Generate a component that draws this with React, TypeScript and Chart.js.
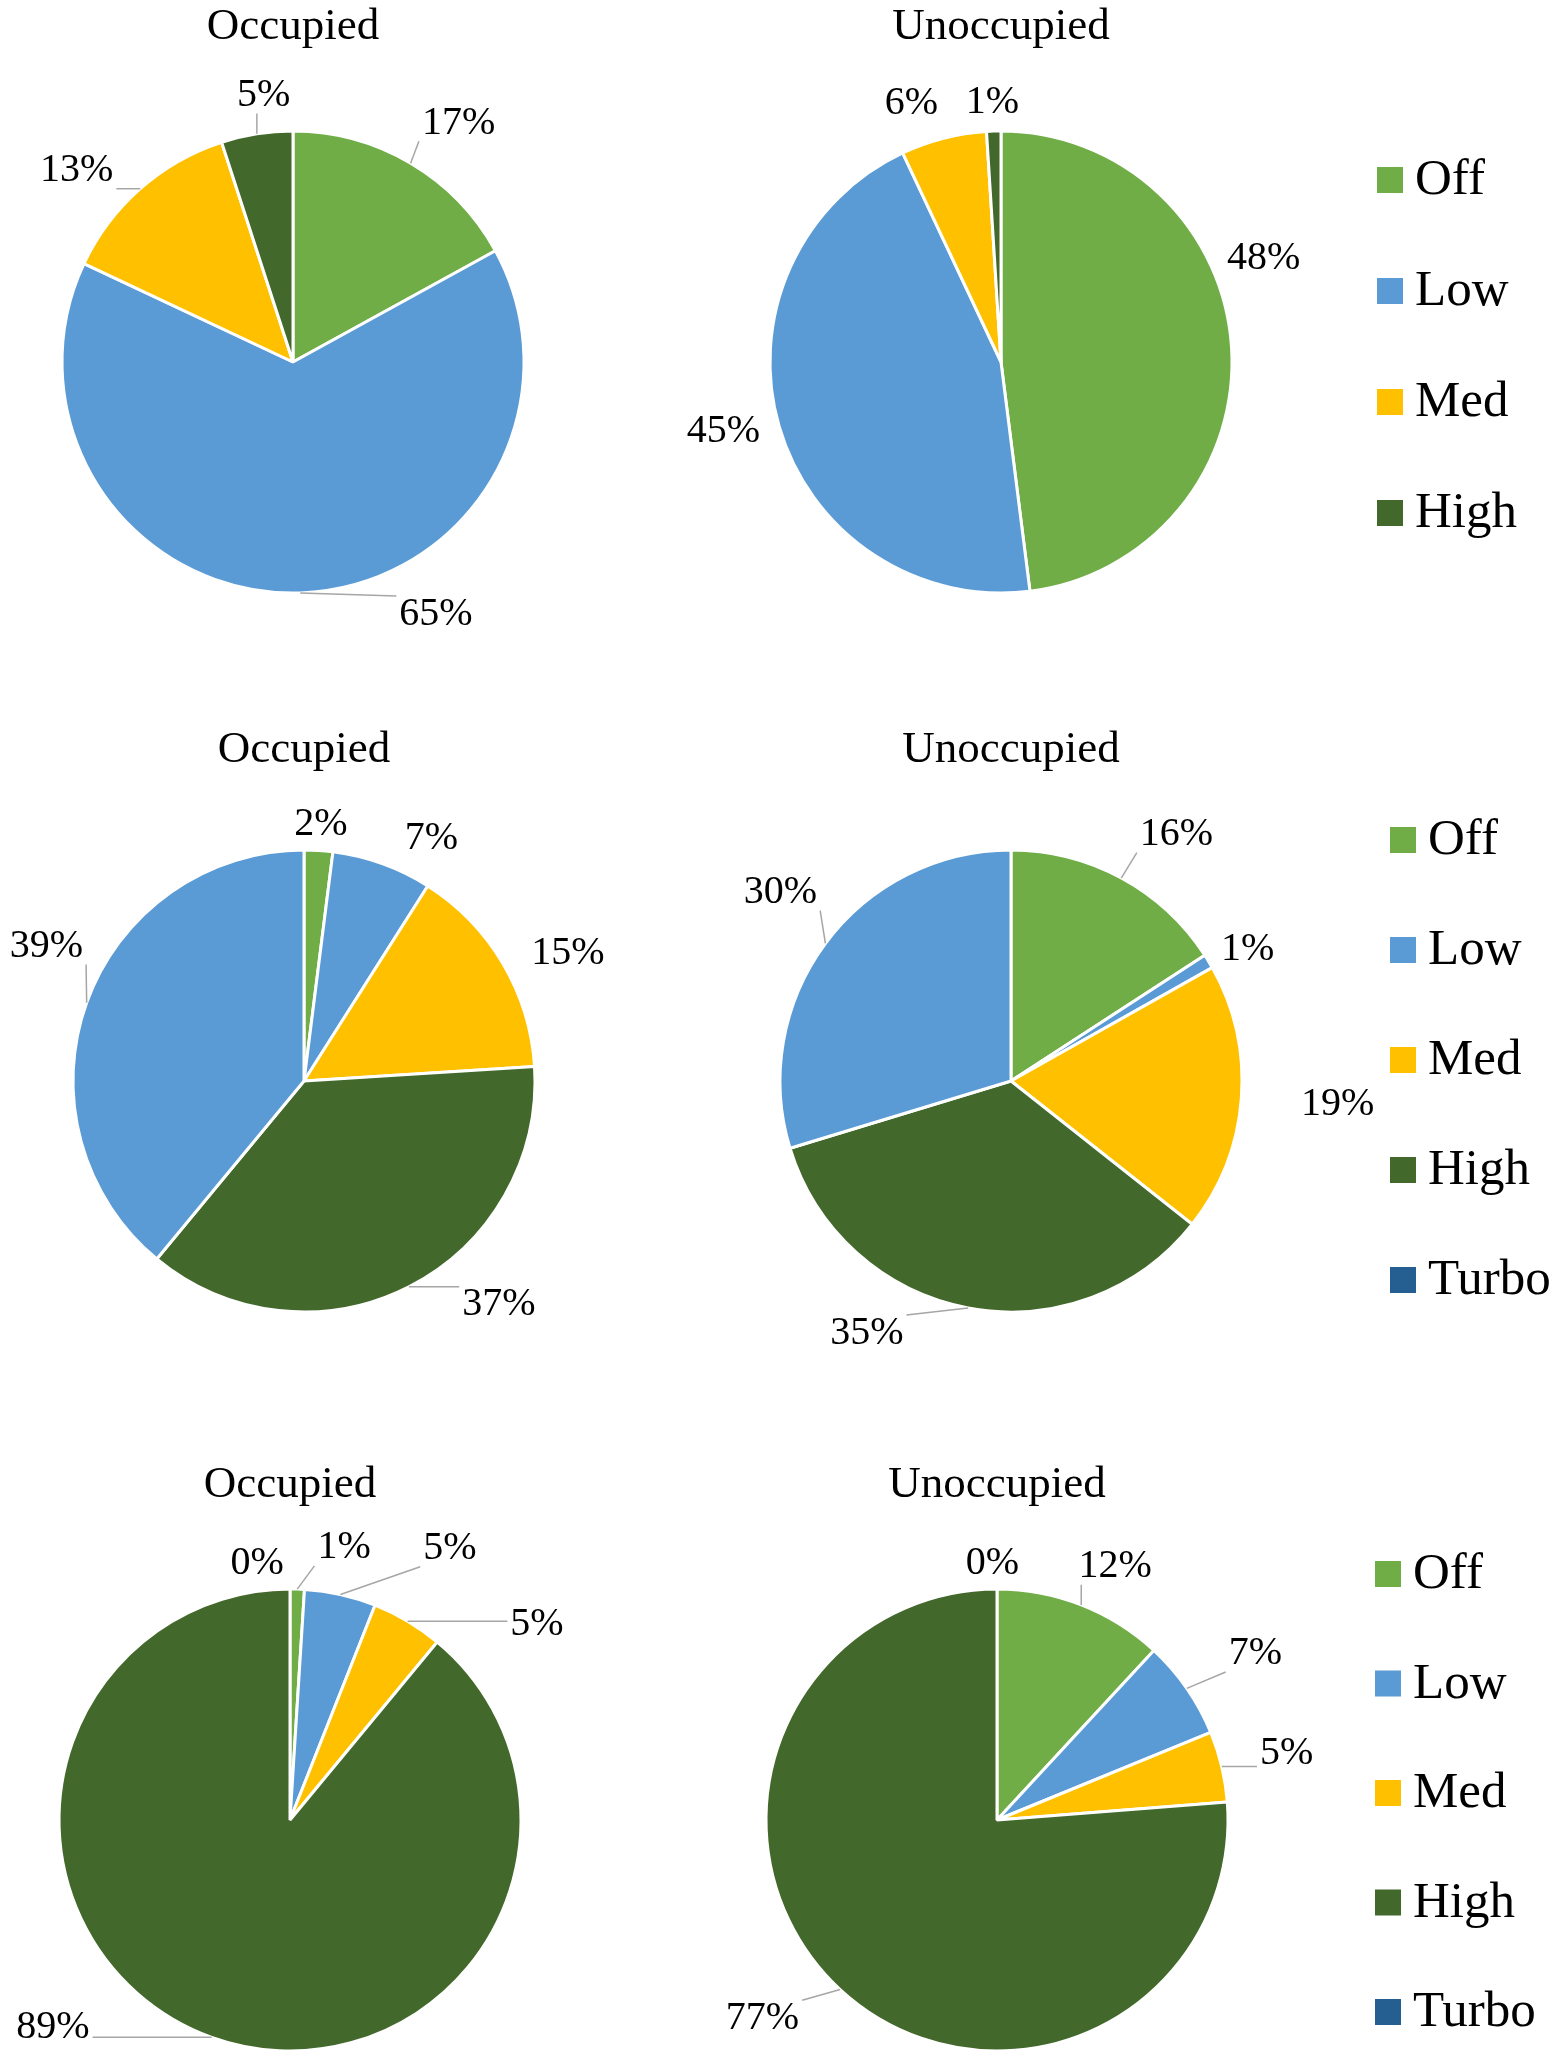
import { useEffect, useRef } from "react";
import { Chart, registerables } from "chart.js";

Chart.register(...registerables);

const FONT = '"Liberation Serif", "Times New Roman", serif';

// fan speed settings
const speeds4 = ["Off", "Low", "Med", "High"];
const speeds5 = ["Off", "Low", "Med", "High", "Turbo"];

// share of time at each speed (%)
const occupiedA = [17, 65, 13, 5];
const unoccupiedA = [48, 45, 6, 1];
const occupiedB = [2, 7, 15, 37, 39];
const unoccupiedB = [16, 1, 19, 35, 30];
const occupiedC = [1, 5, 5, 89, 0];
const unoccupiedC = [12, 7, 5, 77, 0];

const GREEN = "#70AD47";
const BLUE = "#5B9BD5";
const GOLD = "#FFC000";
const DARK_GREEN = "#43682B";
const DARK_BLUE = "#255E91";

const sliceColors4 = [GREEN, BLUE, GOLD, DARK_GREEN];
const sliceColors5 = [GREEN, BLUE, GOLD, DARK_GREEN, BLUE];
const legendColors = [GREEN, BLUE, GOLD, DARK_GREEN, DARK_BLUE];

const RADIUS = 231;
const BORDER = 3;
const TITLE_SIZE = 45;
const LABEL_SIZE = 40;
const LEGEND_SIZE = 51;

type PieProps = {
  title: string;
  labels: string[];
  values: number[];
  colors: string[];
  labelShift: number[]; // degrees, like Excel "best fit" nudges
  labelGap: number[];
  leader: boolean[];
  left: number;
  top: number;
  width: number;
  height: number;
  cx: number;
  cy: number;
  titleBaseline: number;
  legend?: { left: number; top: number; step: number };
};

const clamp = (v: number, lo: number, hi: number) => Math.min(Math.max(v, lo), hi);

function Pie(p: PieProps) {
  const canvasRef = useRef<HTMLCanvasElement>(null);

  useEffect(() => {
    if (!canvasRef.current) return;

    const side = 2 * RADIUS + BORDER;
    const titleLine = 1.2;
    const titleBlock = TITLE_SIZE * titleLine;
    const titlePadTop = p.titleBaseline - 0.305 * TITLE_SIZE - titleBlock / 2 - p.top;
    const areaTop = p.cy - side / 2 - p.top;
    const titlePadBottom = areaTop - titlePadTop - titleBlock;

    const labelPlugin = {
      id: "outerLabels",
      afterDatasetsDraw(chart: any) {
        const ctx = chart.ctx as CanvasRenderingContext2D;
        const arcs = chart.getDatasetMeta(0).data as any[];
        ctx.save();
        ctx.font = `${LABEL_SIZE}px ${FONT}`;
        ctx.textAlign = "center";
        ctx.textBaseline = "middle";
        arcs.forEach((arc, i) => {
          const { x, y, startAngle, endAngle, outerRadius } = arc.getProps(
            ["x", "y", "startAngle", "endAngle", "outerRadius"],
            true
          );
          const mid = (startAngle + endAngle) / 2;
          const a = mid + (p.labelShift[i] * Math.PI) / 180;
          const text = `${p.values[i]}%`;
          const w = ctx.measureText(text).width;
          const h = LABEL_SIZE * 0.76;
          const r = outerRadius + p.labelGap[i];
          const lx = x + Math.cos(a) * (r + w / 2);
          const ly = y + Math.sin(a) * r + (Math.sin(a) * h) / 2;
          if (p.leader[i]) {
            const ax = x + Math.cos(mid) * outerRadius;
            const ay = y + Math.sin(mid) * outerRadius;
            const bx = clamp(ax, lx - w / 2 - 3, lx + w / 2 + 3);
            const by = clamp(ay, ly - h / 2 - 3, ly + h / 2 + 3);
            ctx.strokeStyle = "#A6A6A6";
            ctx.lineWidth = 1.5;
            ctx.beginPath();
            ctx.moveTo(ax, ay);
            ctx.lineTo(bx, by);
            ctx.stroke();
          }
          ctx.fillStyle = "#000";
          ctx.fillText(text, lx, ly);
        });
        ctx.restore();
      },
    };

    const legendPlugin = {
      id: "sideLegend",
      afterDraw(chart: any) {
        const lg = p.legend;
        if (!lg) return;
        const ctx = chart.ctx as CanvasRenderingContext2D;
        ctx.save();
        ctx.font = `${LEGEND_SIZE}px ${FONT}`;
        ctx.textAlign = "left";
        ctx.textBaseline = "middle";
        p.labels.forEach((name, i) => {
          const yc = lg.top + i * lg.step - p.top;
          const bx = lg.left - p.left;
          ctx.fillStyle = legendColors[i];
          ctx.fillRect(bx, yc - 13, 26, 26);
          ctx.fillStyle = "#000";
          ctx.fillText(name, bx + 38, yc + 1);
        });
        ctx.restore();
      },
    };

    const chart = new Chart(canvasRef.current, {
      type: "pie",
      data: {
        labels: p.labels,
        datasets: [
          {
            data: p.values,
            backgroundColor: p.colors,
            borderColor: "#ffffff",
            borderWidth: BORDER,
            hoverBorderWidth: BORDER,
            hoverOffset: 0,
            offset: 0,
          },
        ],
      },
      options: {
        responsive: true,
        maintainAspectRatio: false,
        animation: false,
        events: [],
        layout: {
          padding: {
            left: p.cx - side / 2 - p.left,
            right: p.left + p.width - p.cx - side / 2,
            top: 0,
            bottom: p.top + p.height - p.cy - side / 2,
          },
        },
        plugins: {
          legend: { display: false },
          tooltip: { enabled: false },
          title: {
            display: true,
            text: p.title,
            color: "#000",
            font: { family: FONT, size: TITLE_SIZE, weight: "normal", lineHeight: titleLine },
            padding: { top: titlePadTop, bottom: titlePadBottom },
          },
        },
      },
      plugins: p.legend ? [labelPlugin, legendPlugin] : [labelPlugin],
    } as any);

    return () => {
      chart.destroy();
    };
  }, []);

  return (
    <div
      style={{
        position: "absolute",
        left: p.left,
        top: p.top,
        width: p.width,
        height: p.height,
      }}
    >
      <canvas ref={canvasRef}></canvas>
    </div>
  );
}

export default function App() {
  return (
    <div
      style={{
        position: "absolute",
        left: 0,
        top: 0,
        width: 1563,
        height: 2060,
        background: "#fff",
        overflow: "hidden",
      }}
    >
      <Pie
        title="Occupied"
        labels={speeds4}
        values={occupiedA}
        colors={sliceColors4}
        labelShift={[2.2, -26, -5, 3]}
        labelGap={[38, 39, 31, 22]}
        leader={[true, true, true, true]}
        left={0}
        top={0}
        width={620}
        height={700}
        cx={293}
        cy={362}
        titleBaseline={41}
      />
      <Pie
        title="Unoccupied"
        labels={speeds4}
        values={unoccupiedA}
        colors={sliceColors4}
        labelShift={[-19.5, 1, -4, 0]}
        labelGap={[18, 20, 26, 13]}
        leader={[false, false, false, false]}
        left={620}
        top={0}
        width={943}
        height={700}
        cx={1001}
        cy={362}
        titleBaseline={41}
        legend={{ left: 1377, top: 180, step: 111 }}
      />
      <Pie
        title="Occupied"
        labels={speeds5}
        values={occupiedB}
        colors={sliceColors5}
        labelShift={[0, 7, 3, -12, 9.6]}
        labelGap={[11, 25, 30, 42, 28]}
        leader={[false, false, false, true, true]}
        left={0}
        top={700}
        width={620}
        height={720}
        cx={304}
        cy={1081}
        titleBaseline={764}
      />
      <Pie
        title="Unoccupied"
        labels={speeds5}
        values={unoccupiedB}
        colors={sliceColors5}
        labelShift={[3.5, 1, 0, 17.3, 4.8]}
        labelGap={[44.5, 16, 60, 39.5, 39.3]}
        leader={[true, false, false, true, true]}
        left={620}
        top={700}
        width={943}
        height={720}
        cx={1011}
        cy={1081}
        titleBaseline={764}
        legend={{ left: 1390, top: 840, step: 110 }}
      />
      <Pie
        title="Occupied"
        labels={speeds5}
        values={occupiedC}
        colors={sliceColors5}
        labelShift={[9, 17, 20, 27, -7]}
        labelGap={[31, 66, 62, 57.5, 12]}
        leader={[true, true, true, true, false]}
        left={0}
        top={1420}
        width={620}
        height={640}
        cx={290}
        cy={1820}
        titleBaseline={1499}
      />
      <Pie
        title="Unoccupied"
        labels={speeds5}
        values={unoccupiedC}
        colors={sliceColors5}
        labelShift={[2, 1, 0, 5, -1]}
        labelGap={[30, 53, 40, 49, 10]}
        leader={[true, true, true, true, false]}
        left={620}
        top={1420}
        width={943}
        height={640}
        cx={997}
        cy={1820}
        titleBaseline={1499}
        legend={{ left: 1375, top: 1574, step: 109.5 }}
      />
    </div>
  );
}
